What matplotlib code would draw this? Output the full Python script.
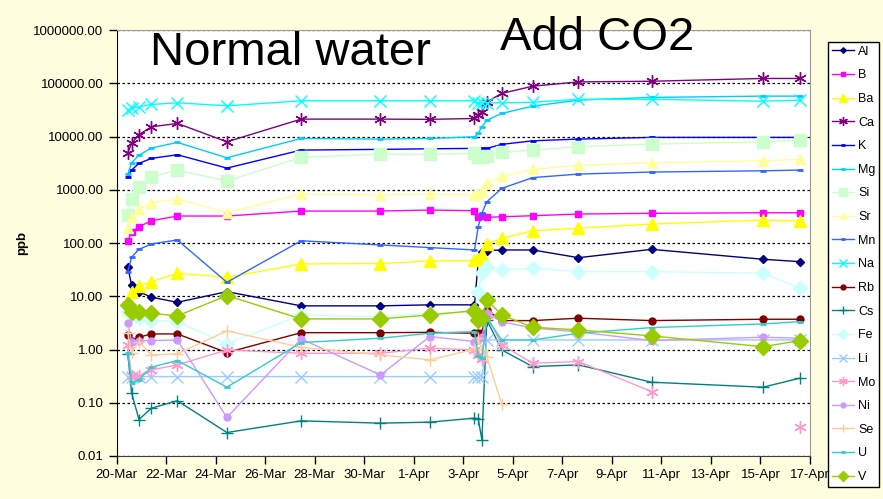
import numpy as np
import matplotlib
matplotlib.use("Agg")
import matplotlib.pyplot as plt
from matplotlib.ticker import FixedLocator, FuncFormatter, NullLocator

plt.rcParams['font.family'] = ['Liberation Sans', 'DejaVu Sans']

nan = np.nan

# sampling times, days after 20-Mar
days = [0.45, 0.6, 0.9, 1.4, 2.45, 4.45, 7.45, 10.65, 12.65, 14.45, 14.6,
        14.75, 14.95, 15.55, 16.8, 18.65, 21.6, 26.1, 27.6]

tick_days = [0, 2, 4, 6, 8, 10, 12, 14, 16, 18, 20, 22, 24, 26, 28]
tick_labels = ['20-Mar', '22-Mar', '24-Mar', '26-Mar', '28-Mar', '30-Mar', '1-Apr',
               '3-Apr', '5-Apr', '7-Apr', '9-Apr', '11-Apr', '13-Apr', '15-Apr', '17-Apr']

Al = [35, 16.3, 12.2, 9.6, 7.7, 12.2, 6.6, 6.6, 6.9, 6.9, 44, 68, 72, 74, 74, 53, 76, 49.5, 44.6]
B = [110, 159, 202, 262, 321, 321, 398, 398, 416, 404, 303, 321, 303, 311, 325, 350, 361, 370, 370]
Ba = [5.7, 12.2, 15.6, 18.8, 27, 22.7, 40.4, 41.2, 45.9, 47, 50, 63, 96, 122, 170, 189, 227, 270, 259]
Ca = [4950, 7420, 10900, 15200, 17600, 7950, 21200, 21200, 21000, 21800, 25000, 29000, 44700,
      64400, 88100, 106000, 109000, 123000, 123000]
K = [1750, 2340, 3130, 3880, 4540, 2550, 5560, 5730, 5880, 5980, 5800, 5980, 5980, 7110, 8300,
     8940, 9620, 9620, 9620]
Mg = [1970, 3210, 4480, 6060, 7750, 3980, 9200, 8940, 9200, 9870, 11400, 15200, 20300, 27100,
      37200, 48200, 54200, 57300, 57300]
Si = [335, 661, 1140, 1750, 2340, 1460, 4060, 4680, 4620, 4820, 4160, 4200, 4290, 5030, 5560,
      6410, 7200, 7960, 8550]
Sr = [189, 311, 429, 570, 669, 370, 830, 805, 830, 795, 850, 946, 1320, 1780, 2410, 2870, 3210,
      3500, 3720]
Mn = [29, 54, 76, 96, 114, 18.3, 110, 92, 82, 74, 202, 365, 596, 1060, 1690, 1970, 2150, 2270, 2340]
Na = [31300, 33700, 36100, 40000, 42900, 37700, 46800, 46800, 46800, 46800, 42000, 43000, 43000,
      43000, 44000, 50000, 50000, 46100, 48200]
Rb = [1.88, 1.47, 1.70, 1.96, 1.96, 0.875, 2.07, 2.07, 2.1, 2.02, 2.0, 2.07, 5.53, 3.49, 3.49,
      3.87, 3.49, 3.7, 3.7]
Cs = [0.84, 0.155, 0.0484, 0.079, 0.109, 0.0276, 0.0457, 0.0414, 0.0432, 0.0514, 0.05, 0.020,
      3.59, 0.98, 0.478, 0.514, 0.243, 0.196, 0.29]
Fe = [5.0, 4.46, 3.87, 3.49, 3.34, 1.27, 4.46, 4.1, 4.86, 5.07, 12.2, 27, 35.9, 31.1, 33.5, 29,
      29, 27, 14.1]
Li = [0.31, 0.31, 0.31, 0.31, 0.31, 0.31, 0.31, 0.31, 0.31, 0.31, 0.31, 0.31, 1.51, 1.51, 1.51,
      1.51, 1.51, 1.51, 1.51]
Mo = [1.22, 0.32, 0.32, 0.414, 0.514, 0.98, 0.85, 0.85, 1.06, 0.98, 0.8, 0.66, 4.46, 1.22, 0.553,
      0.593, 0.162, nan, 0.035]
Ni = [3.2, 1.41, 1.47, 1.47, 1.51, 0.053, 1.58, 0.333, 1.75, 1.41, 1.5, 1.70, 4.8, 3.3, 2.54,
      2.14, 1.47, 1.70, 1.63]
Se = [2.05, 0.85, 1.41, 0.79, 0.83, 2.23, 1.1, 0.79, 0.64, 1.01, 1.63, 1.0, 0.73, 0.095, nan,
      nan, nan, nan, nan]
U = [0.85, 0.24, 0.27, 0.466, 0.62, 0.196, 1.35, 1.63, 2.02, 2.17, 0.76, 0.70, 3.87, 1.51, 1.51,
     2.02, 2.58, 3.02, 3.34]
V = [6.87, 5.14, 5.14, 4.8, 4.27, 10.3, 3.75, 3.75, 4.46, 5.37, 3.59, 3.87, 8.5, 4.46, 2.62,
     2.33, 1.8, 1.13, 1.47]

ast = (6, 2, 0)
# name, values, color, marker, size
series = [
    ('Al', Al, '#000080', 'D', 4),
    ('B', B, '#FF00FF', 's', 5),
    ('Ba', Ba, '#FFFF00', '^', 9),
    ('Ca', Ca, '#800080', ast, 9),
    ('K', K, '#0000FF', '_', 5),
    ('Mg', Mg, '#00CCFF', '_', 5),
    ('Si', Si, '#CCFFCC', 's', 9),
    ('Sr', Sr, '#FFFF99', '^', 7),
    ('Mn', Mn, '#3366FF', '_', 5),
    ('Na', Na, '#00FFFF', 'x', 8),
    ('Rb', Rb, '#800000', 'o', 5),
    ('Cs', Cs, '#008080', '+', 9),
    ('Fe', Fe, '#CCFFFF', 'D', 7),
    ('Li', Li, '#99CCFF', 'x', 8),
    ('Mo', Mo, '#FF99CC', ast, 9),
    ('Ni', Ni, '#CC99FF', 'o', 5),
    ('Se', Se, '#FFCC99', '+', 8),
    ('U', U, '#33CCCC', '_', 5),
    ('V', V, '#99CC00', 'D', 8),
]

fig = plt.figure(figsize=(8.83, 4.99), dpi=100)
fig.patch.set_facecolor('#FFFFE0')
ax = fig.add_axes([116.7 / 883, 1 - 456 / 499, (810 - 116.7) / 883, (456 - 30) / 499])
ax.set_facecolor('white')

for name, vals, col, mk, ms in series:
    mew = 2 if mk == '_' else 1
    ax.plot(days, vals, color=col, marker=mk, markersize=ms, markeredgewidth=mew,
            markerfacecolor=col, markeredgecolor=col, linewidth=1, label=name)

ax.set_yscale('log')
ax.set_ylim(0.01, 1000000)
ax.set_xlim(0, 28)
ax.yaxis.set_major_locator(FixedLocator([0.01, 0.1, 1, 10, 100, 1000, 10000, 100000, 1000000]))
ax.yaxis.set_minor_locator(NullLocator())
ax.yaxis.set_major_formatter(FuncFormatter(lambda v, p: '%.2f' % v))
ax.set_xticks(tick_days)
ax.set_xticklabels(tick_labels)
ax.tick_params(axis='both', labelsize=9.5, direction='out', length=6, width=1, color='black')
ax.grid(axis='y', which='major', color='black', linestyle=(0, (2, 2)), linewidth=0.9)
ax.set_axisbelow(True)
ax.set_ylabel('ppb', fontsize=9.5, fontweight='bold', labelpad=4)

ax.spines['left'].set_color('black')
ax.spines['bottom'].set_color('#404040')
ax.spines['top'].set_color('#999999')
ax.spines['right'].set_color('#999999')

fig.text(150 / 883, 1 - 65 / 499, 'Normal water', fontsize=34, va='baseline', ha='left')
fig.text(500 / 883, 1 - 50 / 499, 'Add CO2', fontsize=34, va='baseline', ha='left')

leg = fig.legend(loc='upper left', bbox_to_anchor=(828 / 883, 1 - 42 / 499), fontsize=9,
                 frameon=True, fancybox=False, edgecolor='black', framealpha=1,
                 handlelength=1.8, handletextpad=0.3, labelspacing=0.93, borderpad=0.3,
                 borderaxespad=0, markerscale=0.7)
leg.get_frame().set_linewidth(1)

fig.savefig('out.png', dpi=100, facecolor=fig.get_facecolor())
